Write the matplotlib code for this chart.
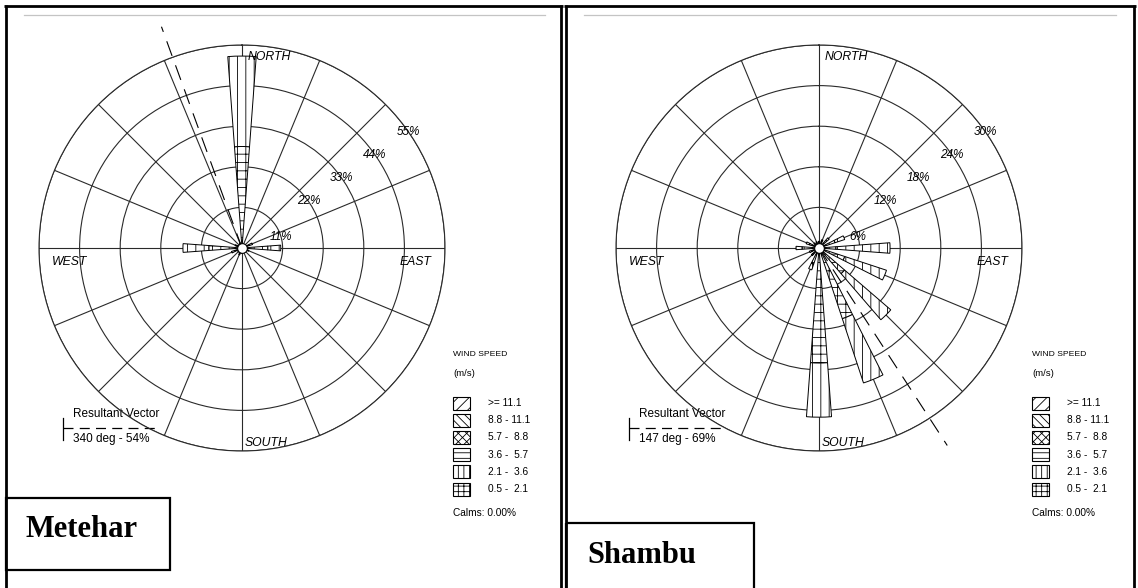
import numpy as np
import matplotlib.pyplot as plt
from matplotlib.patches import Rectangle

plt.rcParams['font.family'] = ['Liberation Sans', 'DejaVu Sans']
plt.rcParams['hatch.linewidth'] = 0.6

# 16 compass sectors, clockwise from north
directions = ['N', 'NNE', 'NE', 'ENE', 'E', 'ESE', 'SE', 'SSE',
              'S', 'SSW', 'SW', 'WSW', 'W', 'WNW', 'NW', 'NNW']

# speed classes (m/s), legend order top to bottom
speed_labels = ['>= 11.1', '8.8 - 11.1', '5.7 -  8.8', '3.6 -  5.7', '2.1 -  3.6', '0.5 -  2.1']
bar_hatches = ['//', '\\\\', 'xx', '--', '||', '++']
key_hatches = ['///', '\\\\\\\\', 'xxxx', '---', '|||', '+++']

# frequency (%) per direction for the two classes that occur
metehar_05_21 = [27.5, 0.8, 0.8, 2.0, 7.0, 1.5, 0.8, 0.7, 1.0, 1.5, 1.0, 2.0, 9.0, 1.5, 0.8, 1.0]
metehar_21_36 = [24.5, 0.3, 0.3, 1.0, 3.5, 0.5, 0.3, 0.3, 0.5, 0.5, 0.5, 1.0, 7.0, 0.5, 0.3, 0.5]

shambu_05_21 = [0.8, 1.0, 1.5, 2.5, 2.5, 4.0, 5.0, 11.0, 17.0, 2.5, 1.2, 1.2, 2.5, 1.5, 0.8, 0.8]
shambu_21_36 = [0.2, 0.3, 0.5, 1.5, 8.0, 6.5, 9.0, 10.0, 8.0, 0.9, 0.3, 0.3, 0.9, 0.5, 0.2, 0.2]

metehar_rings = [11, 22, 33, 44, 55]
shambu_rings = [6, 12, 18, 24, 30]

metehar_resultant = (340, 54)
shambu_resultant = (147, 69)
calms = 0.00

fig = plt.figure(figsize=(11.38, 5.88), dpi=100)

# page layer in pixel coordinates
bg = fig.add_axes([0, 0, 1, 1])
bg.set_xlim(0, 1138)
bg.set_ylim(588, 0)
bg.axis('off')

# table borders
frame = dict(color='black', lw=2.0, solid_capstyle='butt')
bg.plot([4, 563], [6, 6], **frame)
bg.plot([564, 1136], [6, 6], **frame)
bg.plot([6, 6], [5, 588], **frame)
bg.plot([561, 561], [5, 588], **frame)
bg.plot([566, 566], [5, 588], **frame)
bg.plot([1134, 1134], [5, 588], **frame)
bg.plot([24, 545], [15, 15], color='#c4c4c4', lw=0.9)
bg.plot([584, 1116], [15, 15], color='#c4c4c4', lw=0.9)

# station name boxes
bg.add_patch(Rectangle((6, 498), 164, 72, fill=False, edgecolor='black', lw=1.6))
bg.text(26, 537, 'Metehar', family='Liberation Serif', fontweight='bold', fontsize=22, va='baseline')
bg.add_patch(Rectangle((566, 523), 188, 70, fill=False, edgecolor='black', lw=1.6))
bg.text(587, 563, 'Shambu', family='Liberation Serif', fontweight='bold', fontsize=22, va='baseline')


def draw_legend(x0):
    bg.text(x0, 355, 'WIND SPEED', fontsize=6.1, va='center')
    bg.text(x0, 373, '(m/s)', fontsize=6.8, va='center')
    for i, (lab, hatch) in enumerate(zip(speed_labels, key_hatches)):
        y = 403 + 17.2 * i
        bg.add_patch(Rectangle((x0, y - 6.5), 17, 13, facecolor='white', edgecolor='black',
                               lw=0.8, hatch=hatch))
        bg.text(x0 + 35, y, lab, fontsize=7.3, va='center')
    bg.text(x0, 513, f'Calms: {calms:.2f}%', fontsize=7.3, va='center')


def draw_resultant_key(x0, resultant):
    deg, pct = resultant
    bg.text(x0 + 10, 414, 'Resultant Vector', fontsize=8.5, va='center')
    bg.plot([x0, x0], [418, 440], color='black', lw=0.9)
    bg.plot([x0, x0 + 92], [428, 428], color='black', lw=0.9, ls=(0, (8, 5)))
    bg.text(x0 + 10, 439, f'{deg} deg - {pct}%', fontsize=8.5, va='center')


def draw_rose(rect, classes, rings, resultant):
    ax = fig.add_axes(rect, projection='polar')
    ax.set_facecolor('none')
    ax.set_theta_zero_location('N')
    ax.set_theta_direction(-1)
    ax.set_ylim(0, rings[-1])
    ax.set_rgrids(rings, labels=[''] * len(rings))
    ax.set_thetagrids(np.arange(0, 360, 22.5), labels=[''] * len(directions))
    ax.grid(color='#2a2a2a', linewidth=0.8)
    ax.spines['polar'].set_color('#2a2a2a')
    ax.spines['polar'].set_linewidth(0.8)
    ax.tick_params(length=0)

    theta = np.radians(np.arange(len(directions)) * 22.5)
    width = np.radians(8.5)
    bottom = np.zeros(len(directions))
    # stack from the calmest class outward
    for vals, hatch in zip(classes, bar_hatches[::-1]):
        vals = np.asarray(vals, dtype=float)
        ax.bar(theta, vals, width=width, bottom=bottom, facecolor='white',
               edgecolor='black', linewidth=0.7, hatch=hatch, zorder=3)
        bottom += vals

    # resultant vector
    t = np.radians(resultant[0])
    ax.plot([t, t], [0, rings[-1] * 1.16], color='black', lw=0.8,
            ls=(0, (14, 9)), zorder=2.5, clip_on=False)

    for r, ang in zip(rings, [74, 55, 55, 55, 55]):
        ax.text(np.radians(ang), r, f'{r}%', fontstyle='italic', fontsize=8.5,
                ha='center', va='center', zorder=4)

    ax.plot(0, 0, 'o', ms=7, mfc='white', mec='black', mew=0.8, zorder=6, clip_on=False)

    # compass labels
    R = rings[-1]
    kw = dict(fontstyle='italic', fontsize=8.8, zorder=4)
    ax.annotate('NORTH', (0, R), xytext=(4, -8.5), textcoords='offset points',
                ha='left', va='center', **kw)
    ax.annotate('SOUTH', (np.pi, R), xytext=(2, 6), textcoords='offset points',
                ha='left', va='center', **kw)
    ax.annotate('WEST', (1.5 * np.pi, R), xytext=(9, -10), textcoords='offset points',
                ha='left', va='center', **kw)
    ax.annotate('EAST', (0.5 * np.pi, R), xytext=(-10, -10), textcoords='offset points',
                ha='right', va='center', **kw)
    return ax


W, H = 1138, 588
rad = 203
draw_rose([(242 - rad) / W, (H - 248 - rad) / H, 2 * rad / W, 2 * rad / H],
          [metehar_05_21, metehar_21_36], metehar_rings, metehar_resultant)
draw_rose([(819 - rad) / W, (H - 248 - rad) / H, 2 * rad / W, 2 * rad / H],
          [shambu_05_21, shambu_21_36], shambu_rings, shambu_resultant)

draw_legend(453)
draw_legend(1032)
draw_resultant_key(63, metehar_resultant)
draw_resultant_key(629, shambu_resultant)

fig.savefig('out.png', dpi=100)
